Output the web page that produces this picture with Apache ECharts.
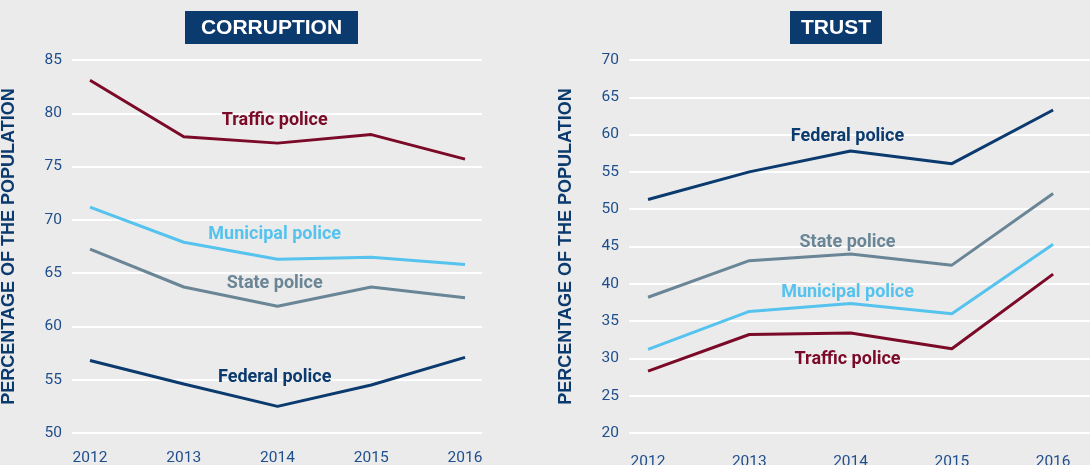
<!DOCTYPE html>
<html><head><meta charset="utf-8">
<script src="https://cdn.jsdelivr.net/npm/echarts@6/dist/echarts.min.js"></script>
<style>html,body{margin:0;padding:0;background:#ebebeb;} #c{width:1090px;height:465px;}</style>
</head><body><div id="c"></div>
<script>
const years = [2012, 2013, 2014, 2015, 2016];
const seriesNames = ['Traffic police', 'Municipal police', 'State police', 'Federal police'];
const corruptionTraffic = [83.1, 77.8, 77.2, 78.0, 75.7];
const corruptionMunicipal = [71.2, 67.9, 66.3, 66.5, 65.8];
const corruptionState = [67.25, 63.7, 61.9, 63.7, 62.7];
const corruptionFederal = [56.8, 54.6, 52.5, 54.5, 57.1];
const trustTraffic = [28.3, 33.2, 33.4, 31.3, 41.3];
const trustMunicipal = [31.2, 36.3, 37.35, 36.0, 45.3];
const trustState = [38.2, 43.1, 44.0, 42.5, 52.1];
const trustFederal = [51.3, 55.0, 57.8, 56.1, 63.3];
const corruptionTicks = [50, 55, 60, 65, 70, 75, 80, 85];
const trustTicks = [20, 25, 30, 35, 40, 45, 50, 55, 60, 65, 70];
const panelTitles = ['CORRUPTION', 'TRUST'];
const yAxisTitle = 'PERCENTAGE OF THE POPULATION';
// in-chart label anchors (data units)
const labelYear = 2013.97;
const corruptionLabelY = [79.3, 68.6, 64.0, 55.2];
const trustLabelY = [29.8, 38.8, 45.6, 59.7];

const colors = ['#7a0a28', '#55c3ee', '#6a8696', '#0b3a6e'];
const navy = '#0b3a6e';
const tickColor = '#1f4e8c';
const FONT = 'Roboto';

const corruptionData = [corruptionTraffic, corruptionMunicipal, corruptionState, corruptionFederal];
const trustData = [trustTraffic, trustMunicipal, trustState, trustFederal];

function pairs(vals) { return years.map((y, i) => [y, vals[i]]); }

const series = [];
[corruptionData, trustData].forEach((panel, p) => {
  panel.forEach((vals, k) => {
    series.push({
      type: 'line', name: seriesNames[k] + p, xAxisIndex: p, yAxisIndex: p,
      data: pairs(vals), symbol: 'none', silent: true,
      lineStyle: { color: colors[k], width: 3 }, z: 3
    });
  });
  const ly = p === 0 ? corruptionLabelY : trustLabelY;
  series.push({
    type: 'scatter', xAxisIndex: p, yAxisIndex: p, symbolSize: 0, silent: true, z: 5,
    itemStyle: { opacity: 0 },
    data: seriesNames.map((n, k) => ({
      value: [labelYear, ly[k]], name: n,
      label: { color: colors[k] }
    })),
    label: {
      show: true, position: 'inside', formatter: '{b}', textBorderWidth: 0, opacity: 1,
      fontFamily: FONT, fontSize: 18, fontWeight: 'bold'
    }
  });
});

function yAxis(p, min, max) {
  return {
    type: 'value', gridIndex: p, min: min, max: max, interval: 5,
    name: yAxisTitle, nameLocation: 'middle', nameGap: 54,
    nameTextStyle: { color: navy, fontFamily: 'Liberation Sans', fontWeight: 'bold', fontSize: 18 },
    axisLine: { show: false }, axisTick: { show: false },
    axisLabel: { color: tickColor, fontFamily: FONT, fontSize: 15.5, margin: 10 },
    splitLine: { lineStyle: { color: '#ffffff', width: 2 } }
  };
}
function xAxis(p, min, max, margin) {
  return {
    type: 'value', gridIndex: p, min: min, max: max,
    axisLine: { show: false }, axisTick: { show: false }, splitLine: { show: false },
    axisLabel: { color: tickColor, fontFamily: FONT, fontSize: 15.5, margin: margin,
      customValues: years, formatter: v => String(v) }
  };
}

const chart = echarts.init(document.getElementById('c'));
chart.setOption({
  backgroundColor: '#ebebeb',
  animation: false,
  grid: [
    { left: 72, top: 60, width: 410, height: 373, containLabel: false, outerBoundsMode: 'none' },
    { left: 629, top: 60, width: 470, height: 373, containLabel: false, outerBoundsMode: 'none' }
  ],
  xAxis: [xAxis(0, 2011.808, 2016.181, 17), xAxis(1, 2011.812, 2016.453, 21)],
  yAxis: [yAxis(0, corruptionTicks[0], corruptionTicks[corruptionTicks.length - 1]),
          yAxis(1, trustTicks[0], trustTicks[trustTicks.length - 1])],
  series: series,
  graphic: [
    { type: 'group', left: 185, top: 11, children: [
      { type: 'rect', shape: { x: 0, y: 0, width: 173, height: 33 }, style: { fill: navy } },
      { type: 'text', x: 86.5, y: 17.5, style: { text: panelTitles[0], fill: '#fff', font: 'bold 21px "Liberation Sans"', align: 'center', verticalAlign: 'middle' } }
    ]},
    { type: 'group', left: 790, top: 11, children: [
      { type: 'rect', shape: { x: 0, y: 0, width: 92, height: 33 }, style: { fill: navy } },
      { type: 'text', x: 46, y: 17.5, style: { text: panelTitles[1], fill: '#fff', font: 'bold 21px "Liberation Sans"', align: 'center', verticalAlign: 'middle' } }
    ]}
  ]
});
</script></body></html>
